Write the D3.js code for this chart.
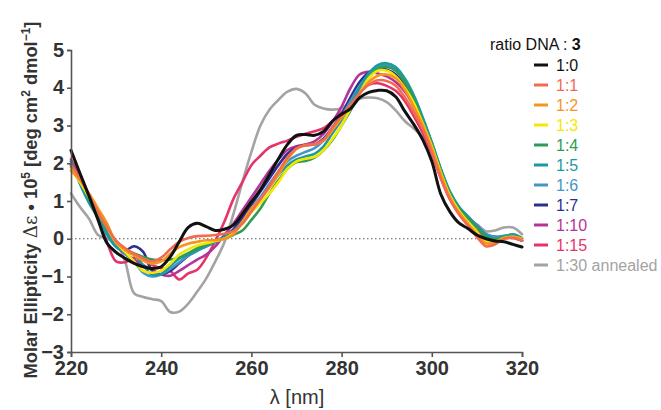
<!DOCTYPE html>
<html>
<head>
<meta charset="utf-8">
<script src="https://cdn.jsdelivr.net/npm/d3@7"></script>
<style>
  html, body { margin: 0; padding: 0; background: #fff; }
  svg { display: block; font-family: "Liberation Sans", Arial, sans-serif; }
</style>
</head>
<body>
<svg id="chart" width="661" height="410"></svg>
<script>
// ---------- data ----------
const wavelengths = [220,222,224,226,228,230,232,234,236,238,240,242,244,246,248,250,252,254,256,258,260,262,264,266,268,270,272,274,276,278,280,282,284,286,288,290,292,294,296,298,300,302,304,306,308,310,312,314,316,318,320];

const r1_0  = [2.34,1.73,1.13,0.50,-0.12,-0.36,-0.52,-0.65,-0.74,-0.79,-0.74,-0.48,-0.08,0.30,0.41,0.32,0.22,0.25,0.36,0.65,0.98,1.30,1.70,2.12,2.50,2.74,2.76,2.74,2.84,3.12,3.30,3.45,3.74,3.88,3.93,3.92,3.76,3.38,3.03,2.62,2.05,1.18,0.72,0.42,0.27,0.10,0.00,-0.06,-0.08,-0.15,-0.22];
const r1_1  = [1.95,1.60,1.15,0.70,0.30,-0.05,-0.25,-0.40,-0.52,-0.60,-0.50,-0.28,-0.08,0.02,0.07,0.08,0.10,0.13,0.20,0.40,0.72,1.05,1.40,1.78,2.15,2.40,2.48,2.50,2.62,2.95,3.25,3.55,3.85,4.08,4.20,4.18,4.05,3.75,3.35,2.90,2.30,1.60,1.05,0.65,0.35,0.05,-0.20,-0.15,0.00,0.02,-0.05];
const r1_2  = [1.80,1.55,1.20,0.80,0.40,-0.10,-0.30,-0.44,-0.58,-0.66,-0.60,-0.40,-0.22,-0.13,-0.08,-0.04,-0.04,0.00,0.12,0.45,0.80,1.05,1.35,1.70,2.10,2.38,2.48,2.50,2.60,2.88,3.20,3.50,3.85,4.15,4.32,4.35,4.25,3.95,3.50,3.00,2.40,1.70,1.10,0.70,0.40,0.12,-0.12,-0.10,0.00,0.05,0.00];
const r1_3  = [1.85,1.50,1.10,0.70,0.30,-0.10,-0.35,-0.60,-0.85,-0.90,-0.85,-0.66,-0.42,-0.28,-0.18,-0.12,-0.06,0.00,0.15,0.40,0.70,0.95,1.20,1.50,1.85,2.05,2.12,2.17,2.35,2.65,3.00,3.45,3.85,4.25,4.45,4.45,4.30,4.00,3.60,3.05,2.45,1.75,1.15,0.75,0.45,0.18,-0.08,-0.08,0.02,0.05,0.00];
const r1_4  = [1.90,1.55,1.10,0.65,0.25,-0.10,-0.28,-0.39,-0.48,-0.55,-0.57,-0.55,-0.50,-0.38,-0.25,-0.15,-0.07,0.00,0.10,0.22,0.50,0.80,1.20,1.55,1.85,2.03,2.06,2.15,2.34,2.62,3.00,3.40,3.85,4.25,4.50,4.55,4.45,4.15,3.70,3.10,2.50,1.80,1.20,0.80,0.55,0.30,0.05,-0.02,0.05,0.05,-0.05];
const r1_5  = [2.05,1.45,0.95,0.55,0.10,-0.22,-0.35,-0.42,-0.70,-0.95,-0.93,-0.72,-0.52,-0.42,-0.30,-0.18,-0.06,0.05,0.20,0.42,0.75,1.05,1.40,1.70,1.95,2.10,2.18,2.25,2.45,2.80,3.15,3.55,4.00,4.38,4.60,4.65,4.55,4.25,3.80,3.20,2.55,1.85,1.25,0.85,0.58,0.32,0.10,0.00,0.05,0.12,0.02];
const r1_6  = [1.95,1.55,1.10,0.62,0.20,-0.15,-0.40,-0.60,-0.90,-1.00,-0.95,-0.80,-0.62,-0.45,-0.32,-0.20,-0.08,0.02,0.20,0.45,0.80,1.10,1.45,1.78,2.05,2.20,2.30,2.40,2.60,2.90,3.25,3.65,4.05,4.35,4.55,4.60,4.50,4.20,3.78,3.20,2.55,1.85,1.25,0.85,0.60,0.35,0.12,0.05,0.08,0.10,0.00];
const r1_7  = [1.95,1.55,1.10,0.65,0.25,-0.10,-0.30,-0.20,-0.35,-0.85,-0.95,-0.85,-0.65,-0.45,-0.30,-0.20,-0.08,0.05,0.25,0.55,0.90,1.25,1.60,1.95,2.25,2.42,2.48,2.50,2.65,2.95,3.30,3.75,4.15,4.40,4.50,4.48,4.35,4.05,3.60,3.05,2.45,1.78,1.20,0.82,0.58,0.35,0.12,0.05,0.05,0.05,-0.05];
const r1_10 = [2.05,1.60,1.10,0.60,0.15,-0.20,-0.40,-0.55,-0.70,-0.82,-0.95,-0.98,-0.85,-0.70,-0.55,-0.42,-0.20,0.10,0.40,0.75,1.10,1.45,1.80,2.10,2.35,2.45,2.50,2.58,2.78,3.10,3.50,4.00,4.35,4.42,4.38,4.30,4.15,3.90,3.50,2.95,2.35,1.70,1.15,0.78,0.55,0.32,0.10,0.02,0.05,0.05,0.00];
const r1_15 = [2.10,1.65,1.15,0.55,-0.10,-0.60,-0.62,-0.50,-0.55,-0.70,-0.78,-0.85,-1.08,-0.92,-0.82,-0.50,-0.05,0.45,1.05,1.50,1.95,2.20,2.42,2.52,2.60,2.70,2.78,2.85,2.93,3.12,3.35,3.60,3.90,4.08,4.12,4.05,3.92,3.65,3.25,2.80,2.25,1.60,1.05,0.68,0.42,0.20,0.00,-0.02,0.03,0.02,-0.05];
const r1_30 = [1.20,0.84,0.53,0.10,0.00,-0.10,-0.60,-1.45,-1.54,-1.60,-1.65,-1.94,-1.93,-1.72,-1.40,-1.05,-0.60,-0.10,0.65,1.50,2.30,3.00,3.42,3.68,3.90,3.97,3.85,3.55,3.45,3.42,3.46,3.62,3.71,3.74,3.72,3.62,3.40,3.12,2.92,2.68,2.30,1.70,1.15,0.78,0.55,0.38,0.20,0.22,0.30,0.30,0.12];

const seriesLabels = ["1:0","1:1","1:2","1:3","1:4","1:5","1:6","1:7","1:10","1:15","1:30 annealed"];
const xTicks = [220,240,260,280,300,320];
const yTicks = [-3,-2,-1,0,1,2,3,4,5];

// ---------- table built from the arrays ----------
const seriesValues = [r1_0,r1_1,r1_2,r1_3,r1_4,r1_5,r1_6,r1_7,r1_10,r1_15,r1_30];
const seriesColors = ["#111111","#f26b4f","#f7941d","#f5e800","#2e9c55","#1b9aa2","#4595c8","#2c2f8f","#b5349a","#e6336a","#a3a3a3"];
const series = seriesLabels.map((label,i) => ({
  label, color: seriesColors[i],
  points: wavelengths.map((w,j) => ({w, v: seriesValues[i][j]}))
}));

// ---------- chart ----------
const svg = d3.select("#chart");
const x = d3.scaleLinear().domain([220,320]).range([71,522]);
const y = d3.scaleLinear().domain([-3,5]).range([352,50]);
const axisColor = "#555";
const tickFont = "bold 20px 'Liberation Sans', Arial, sans-serif";

// zero dotted line
svg.append("line")
  .attr("x1", x(220)).attr("x2", x(320))
  .attr("y1", y(0)).attr("y2", y(0))
  .attr("stroke", "#555").attr("stroke-width", 1.2)
  .attr("stroke-dasharray", "1.5,2.5");

// lines
const line = d3.line().x(d => x(d.w)).y(d => y(d.v)).curve(d3.curveCatmullRom.alpha(0.5));
const drawOrder = [10,9,8,7,6,5,4,3,2,1,0];
svg.append("g").selectAll("path")
  .data(drawOrder.map(i => series[i]))
  .join("path")
  .attr("d", d => line(d.points))
  .attr("fill", "none")
  .attr("stroke", d => d.color)
  .attr("stroke-width", d => d.label === "1:0" ? 3 : 2.6)
  .attr("stroke-linejoin", "round")
  .attr("stroke-linecap", "round");

// axes
const yAxis = svg.append("g").attr("transform", `translate(${x(220)},0)`)
  .call(d3.axisLeft(y).tickValues(yTicks).tickFormat(d3.format("d")).tickSize(4).tickPadding(3));
const xAxis = svg.append("g").attr("transform", `translate(0,${y(-3)})`)
  .call(d3.axisBottom(x).tickValues(xTicks).tickFormat(d3.format("d")).tickSize(5).tickPadding(4));
[yAxis, xAxis].forEach(g => {
  g.select(".domain").attr("stroke", axisColor).attr("stroke-width", 1.6);
  g.selectAll(".tick line").attr("stroke", axisColor).attr("stroke-width", 1.6);
  g.selectAll(".tick text").attr("fill", "#333").style("font", tickFont);
});
yAxis.selectAll(".tick text").attr("dy", "0.3em");

// x title
svg.append("text")
  .attr("x", 297).attr("y", 404)
  .attr("text-anchor", "middle")
  .attr("fill", "#333")
  .style("font-size", "20px")
  .text("λ [nm]");

// y title
const yt = svg.append("text")
  .attr("transform", "translate(37,200) rotate(-90)")
  .attr("text-anchor", "middle")
  .attr("fill", "#333")
  .style("font-size", "18.3px")
  .style("font-weight", "bold");
yt.append("tspan").text("Molar Ellipticity ");
yt.append("tspan").style("font-weight", "normal").style("font-family", "'DejaVu Serif', serif").text("Δε");
yt.append("tspan").text(" • 10");
yt.append("tspan").attr("dy", -7).style("font-size", "12px").text("5");
yt.append("tspan").attr("dy", 7).text(" [deg cm");
yt.append("tspan").attr("dy", -7).style("font-size", "12px").text("2");
yt.append("tspan").attr("dy", 7).text(" dmol");
yt.append("tspan").attr("dy", -7).style("font-size", "12px").text("−1");
yt.append("tspan").attr("dy", 7).text("]");

// legend
const lg = svg.append("g");
const lt = lg.append("text").attr("x", 490).attr("y", 50)
  .attr("fill", "#111").style("font-size", "16px");
lt.append("tspan").text("ratio DNA : ");
lt.append("tspan").style("font-weight", "bold").text("3");

const items = lg.selectAll("g.item").data(series).join("g")
  .attr("class", "item")
  .attr("transform", (d,i) => `translate(0,${65 + i*20})`);
items.append("line").attr("x1", 534).attr("x2", 548)
  .attr("stroke", d => d.color).attr("stroke-width", 3);
items.append("text").attr("x", 556).attr("y", 0).attr("dy", "0.36em")
  .attr("fill", d => d.color).style("font-size", "16px")
  .text(d => d.label);
</script>
</body>
</html>
